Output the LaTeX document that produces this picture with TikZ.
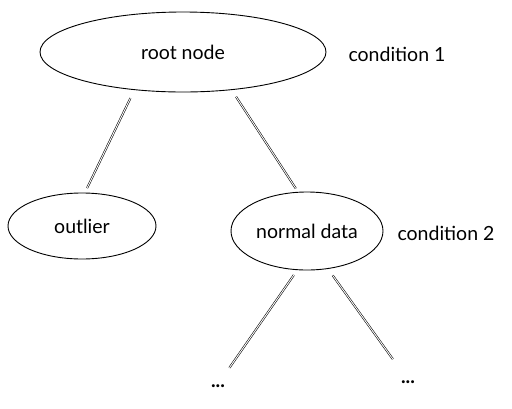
\documentclass[tikz,border=0pt]{standalone}
\usepackage{fontspec}
\setmainfont{Lato}
\usepackage{tikz}
\usetikzlibrary{shapes.geometric}

\begin{document}
\begin{tikzpicture}[x=1pt,y=-1pt,semithick,
	blob/.style={ellipse,draw,line width=0.9pt,inner sep=0pt,font=\fontsize{19.5}{22}\selectfont},
	label/.style={font=\fontsize{19.5}{22}\selectfont},
	branch/.style={double,double distance=0.9pt,line width=0.55pt}]
			\useasboundingbox (0,0) rectangle (512,408);
			\node[blob, minimum width=286pt, minimum height=80pt] (root)    at (183,52)  {root node};
			\node[blob, minimum width=148pt, minimum height=66pt] (outlier) at (82,226)  {outlier};
			\node[blob, minimum width=152pt, minimum height=78pt] (normal)  at (307,231) {normal data};
			\node[label] (cond1) at (397,54)  {condition 1};
			\node[label] (cond2) at (446,233) {condition 2};
			\node[label, inner sep=0pt] (dotsL) at (218,386) {\textbf{...}};
			\node[label, inner sep=0pt] (dotsR) at (408,382) {\textbf{...}};
			\draw[branch, shorten <=9pt, shorten >=5pt]  (root.218) -- (outlier.85);
			\draw[branch, shorten <=8pt, shorten >=4pt]  (root.322) -- (normal.103);
			\draw[branch, shorten <=6pt, shorten >=20pt] (normal.256) -- (dotsL.north);
			\draw[branch, shorten <=8pt, shorten >=26pt] (normal.299) -- (dotsR.north);
		\end{tikzpicture}
\end{document}
